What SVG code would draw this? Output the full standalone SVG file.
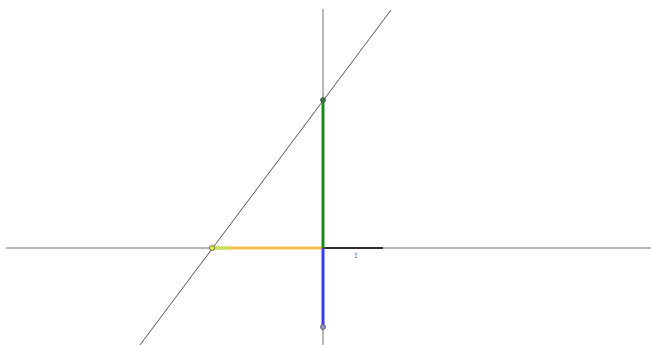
<svg xmlns="http://www.w3.org/2000/svg" width="651" height="345" viewBox="0 0 651 345">
<style>
.axis{stroke:#707070;stroke-width:1;fill:none}
.line{stroke:#555;stroke-width:1;fill:none}
.seg{stroke-width:3;fill:none}
.pt{stroke:#555;stroke-width:0.8}
.lbl{font-family:"Liberation Sans",Arial,sans-serif;font-size:7px;fill:#666}
</style>
<rect width="651" height="345" fill="#fff"/>
<g id="axes">
<line class="axis" x1="6" y1="248" x2="651" y2="248"/>
<line class="axis" x1="323" y1="9" x2="323" y2="345"/>
</g>
<g id="connectors">
<line class="line" x1="140" y1="345" x2="391" y2="10"/>
<line class="seg" x1="212" y1="248" x2="323" y2="248" stroke="#f5c04a"/>
<line class="seg" x1="214" y1="248" x2="230" y2="248" stroke="#c8e060"/>
<line x1="323" y1="248" x2="383" y2="248" stroke="#000" stroke-width="1.5"/>
<line class="seg" x1="323" y1="100" x2="323" y2="248" stroke="#1a8a1a"/>
<line class="seg" x1="323" y1="248" x2="323" y2="327" stroke="#3a3af0"/>
</g>
<g id="point-top"><circle class="pt" cx="323" cy="100" r="2.5" fill="#2a7a3a"/></g>
<g id="point-left"><circle class="pt" cx="212" cy="248" r="2.5" fill="#e8f040"/></g>
<g id="point-bottom"><circle class="pt" cx="323" cy="327" r="2.5" fill="#9090d0"/></g>
<g id="tick-label"><text class="lbl" x="354" y="258">1</text></g>
</svg>
